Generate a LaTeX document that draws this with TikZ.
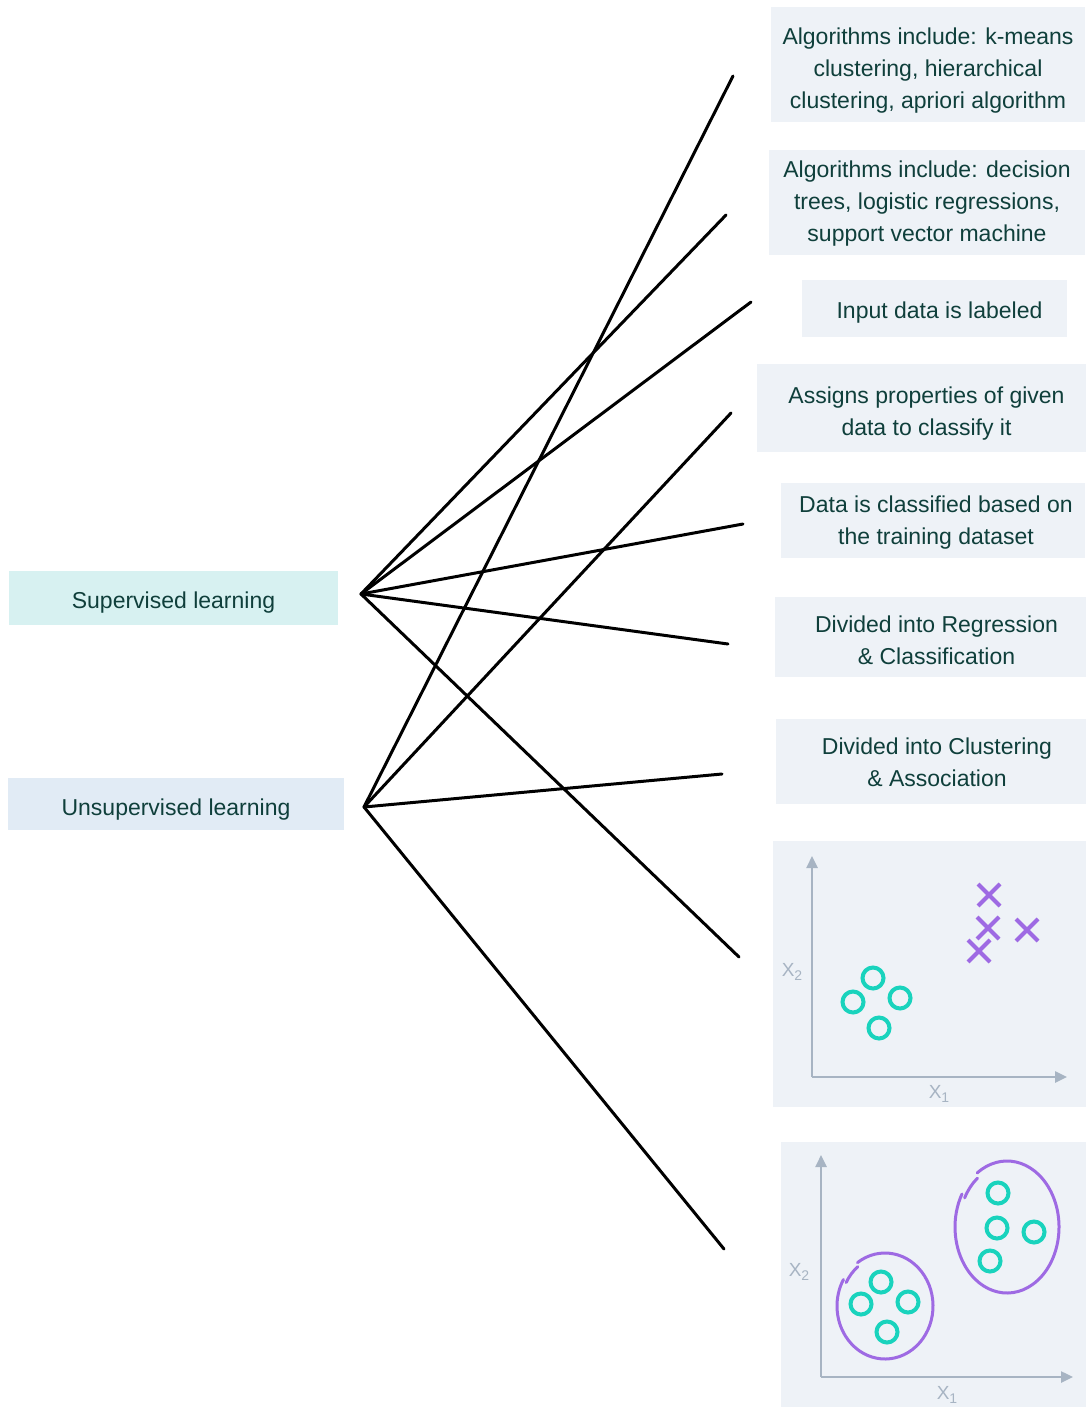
\documentclass[tikz,border=0pt]{standalone}
\usepackage{fontspec}
\setmainfont{Liberation Sans}
\usetikzlibrary{arrows.meta}
\usetikzlibrary{shapes.misc}
\definecolor{textcol}{HTML}{0F3F3B}
\definecolor{supfill}{HTML}{D7F1F1}
\definecolor{unsupfill}{HTML}{E1EBF5}
\definecolor{itemfill}{HTML}{EEF2F7}
\definecolor{axiscol}{HTML}{A7B4C3}
\definecolor{dotcol}{HTML}{19D3BD}
\definecolor{crosscol}{HTML}{9E6AE3}
\newcommand{\xlab}[1]{X\raisebox{-0.35ex}{\fontsize{14}{14}\selectfont #1}}
\tikzset{
  boxfill/.style={fill=#1,inner sep=0pt},
  boxtext/.style={text=textcol,font=\fontsize{23}{32}\selectfont,align=center,inner sep=0pt},
  link/.style={line width=3pt,line cap=round},
  axis/.style={draw=axiscol,line width=2.5pt,-{Triangle[length=12pt,width=11pt]}},
  axislab/.style={text=axiscol,font=\fontsize{19}{19}\selectfont,inner sep=0pt},
  dot/.style={draw=dotcol,line width=4pt,circle,minimum size=21pt,inner sep=0pt},
  xmark/.style={draw=crosscol,line width=4pt,cross out,minimum size=18pt,inner sep=0pt},
  cluster/.style={draw=crosscol,line width=3pt,line cap=round}
}
\begin{document}
\begin{tikzpicture}[x=1pt,y=-1pt]
    \useasboundingbox (0,0) rectangle (1086,1407);
    \node[boxfill=supfill,minimum width=329pt,minimum height=54pt] (sup) at (173.5,598) {};
    \node[boxtext] (suptxt) at ([yshift=-5pt]sup) {Supervised learning};
    \node[boxfill=unsupfill,minimum width=336pt,minimum height=52pt] (unsup) at (176,804) {};
    \node[boxtext] (unsuptxt) at ([yshift=-6pt]unsup) {Unsupervised learning};
    \node[boxfill=itemfill,minimum width=314pt,minimum height=115pt] (algoU) at (928,64.5) {};
    \node[boxtext] (algoUtxt) at ([yshift=-6pt]algoU)
      {Algorithms include: k-means\\clustering, hierarchical\\clustering, apriori algorithm};
    \node[boxfill=itemfill,minimum width=316pt,minimum height=105pt] (algoS) at (927,202.5) {};
    \node[boxtext] (algoStxt) at ([yshift=-1pt]algoS)
      {Algorithms include: decision\\trees, logistic regressions,\\support vector machine};
    \node[boxfill=itemfill,minimum width=265pt,minimum height=57pt] (labeled) at (934.5,308.5) {};
    \node[boxtext] (labeledtxt) at ([xshift=5pt,yshift=-4pt]labeled) {Input data is labeled};
    \node[boxfill=itemfill,minimum width=329pt,minimum height=88pt] (assigns) at (921.5,408) {};
    \node[boxtext] (assignstxt) at ([xshift=5pt,yshift=-6pt]assigns)
      {Assigns properties of given\\data to classify it};
    \node[boxfill=itemfill,minimum width=304pt,minimum height=75pt] (training) at (933,520.5) {};
    \node[boxtext] (trainingtxt) at ([xshift=3pt,yshift=-2pt]training)
      {Data is classified based on\\the training dataset};
    \node[boxfill=itemfill,minimum width=311pt,minimum height=80pt] (regress) at (930.5,637) {};
    \node[boxtext] (regresstxt) at ([xshift=6pt,yshift=-3pt]regress)
      {Divided into Regression\\\& Classification};
    \node[boxfill=itemfill,minimum width=310pt,minimum height=85pt] (cluster) at (931,761.5) {};
    \node[boxtext] (clustertxt) at ([xshift=6pt,yshift=-1pt]cluster)
      {Divided into Clustering\\\& Association};
    \fill[itemfill] (773,841) rectangle (1086,1107);
    \fill[itemfill] (781,1142) rectangle (1086,1407);
    \coordinate (suphub) at (361,594);
    \coordinate (unsuphub) at (364,807);
    \coordinate (e1) at (733,76);
    \coordinate (e2) at (726,215);
    \coordinate (e3) at (751,302);
    \coordinate (e4) at (731,413);
    \coordinate (e5) at (743,524);
    \coordinate (e6) at (728,644);
    \coordinate (e7) at (722,774);
    \coordinate (e8) at (739,957);
    \coordinate (e9) at (724,1249);
    \foreach \e in {e2,e3,e5,e6,e8}
      \draw[link] (suphub) -- (\e);
    \foreach \e in {e1,e4,e7,e9}
      \draw[link] (unsuphub) -- (\e);
    \begin{scope}
      \coordinate (o1) at (812,1077);
      \draw[axis] (o1) -- (812,856);
      \draw[axis] (o1) -- (1067,1077);
      \node[axislab] (ya) at (792,972) {\xlab{2}};
      \node[axislab] (xa) at (939,1094) {\xlab{1}};
      \foreach \p [count=\i] in {{873,978},{853,1002},{900,998},{879,1028}}
        \node[dot] (pa\i) at (\p) {};
      \foreach \p [count=\i] in {{989,895},{988,928},{1027,930},{979,951}}
        \node[xmark] (xa\i) at (\p) {};
    \end{scope}
    \begin{scope}
      \coordinate (o2) at (821,1377);
      \draw[axis] (o2) -- (821,1155);
      \draw[axis] (o2) -- (1073,1377);
      \node[axislab] (yb) at (799,1272) {\xlab{2}};
      \node[axislab] (xb) at (947,1395) {\xlab{1}};
      \foreach \p [count=\i] in {{881,1282},{861,1304},{908,1302},{887,1332},{998,1193},{997,1228},{1034,1232},{990,1261}}
        \node[dot] (pb\i) at (\p) {};
      \draw[cluster] (885,1306) ++(235:48 and 53) arc[start angle=235,end angle=570,x radius=48,y radius=53];
      \draw[cluster] (885,1306) ++(208:44 and 50) arc[start angle=208,end angle=232,x radius=44,y radius=50];
      \draw[cluster] (1007,1227) ++(235:52 and 66) arc[start angle=235,end angle=570,x radius=52,y radius=66];
      \draw[cluster] (1007,1227) ++(208:48 and 62) arc[start angle=208,end angle=232,x radius=48,y radius=62];
    \end{scope}
\end{tikzpicture}
\end{document}
